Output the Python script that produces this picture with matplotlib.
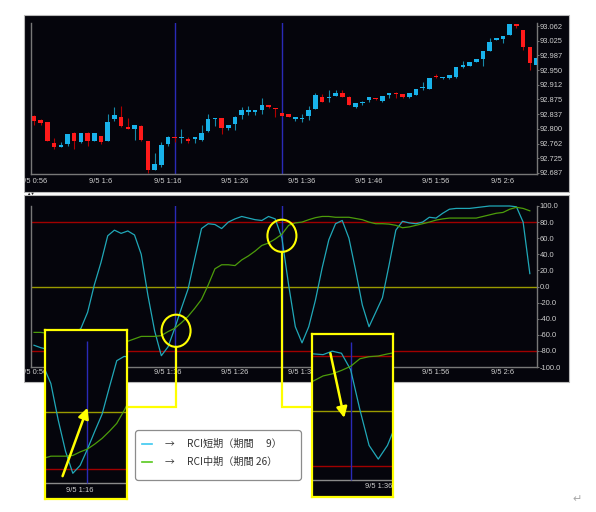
import numpy as np
import matplotlib
matplotlib.use("Agg")
import matplotlib.pyplot as plt
from matplotlib.patches import Rectangle, Ellipse, FancyBboxPatch

# ── Data ──────────────────────────────────────────────────────────────────────
# 1-minute candles from 9/5 0:56
bar_open = [92.833, 92.823, 92.817, 92.763, 92.754, 92.762, 92.790, 92.767, 92.789, 92.769,
            92.782, 92.769, 92.825, 92.831, 92.805, 92.800, 92.808, 92.769, 92.695, 92.708,
            92.762, 92.780, 92.776, 92.774, 92.775, 92.772, 92.795, 92.825, 92.827, 92.802,
            92.813, 92.835, 92.844, 92.844, 92.848, 92.861, 92.853, 92.840, 92.837, 92.826,
            92.825, 92.834, 92.851, 92.882, 92.878, 92.885, 92.891, 92.882, 92.855, 92.865,
            92.874, 92.878, 92.872, 92.887, 92.892, 92.889, 92.881, 92.887, 92.905, 92.902,
            92.935, 92.929, 92.929, 92.932, 92.959, 92.961, 92.971, 92.978, 92.999, 93.027,
            93.029, 93.040, 93.068, 93.052, 93.010, 92.963]
bar_high = [92.835, 92.825, 92.818, 92.777, 92.767, 92.788, 92.793, 92.790, 92.791, 92.790,
            92.783, 92.838, 92.857, 92.859, 92.827, 92.811, 92.810, 92.770, 92.739, 92.767,
            92.782, 92.781, 92.799, 92.779, 92.779, 92.810, 92.837, 92.829, 92.828, 92.811,
            92.832, 92.857, 92.858, 92.849, 92.878, 92.862, 92.853, 92.841, 92.838, 92.830,
            92.838, 92.858, 92.891, 92.889, 92.899, 92.899, 92.899, 92.883, 92.867, 92.870,
            92.881, 92.879, 92.885, 92.892, 92.893, 92.890, 92.892, 92.902, 92.920, 92.931,
            92.939, 92.932, 92.938, 92.959, 92.974, 92.971, 92.979, 92.999, 93.031, 93.032,
            93.038, 93.068, 93.068, 93.053, 93.010, 92.984]
bar_low = [92.810, 92.810, 92.769, 92.749, 92.753, 92.756, 92.748, 92.764, 92.757, 92.768,
           92.761, 92.768, 92.820, 92.806, 92.799, 92.772, 92.770, 92.688, 92.694, 92.702,
           92.757, 92.767, 92.765, 92.763, 92.765, 92.770, 92.791, 92.807, 92.787, 92.797,
           92.797, 92.826, 92.835, 92.835, 92.837, 92.853, 92.830, 92.833, 92.830, 92.821,
           92.818, 92.823, 92.850, 92.869, 92.868, 92.884, 92.881, 92.860, 92.853, 92.861,
           92.869, 92.874, 92.868, 92.880, 92.878, 92.880, 92.878, 92.886, 92.899, 92.901,
           92.929, 92.928, 92.928, 92.931, 92.955, 92.960, 92.971, 92.961, 92.999, 93.026,
           93.020, 93.039, 93.058, 93.001, 92.950, 92.959]
bar_close = [92.821, 92.816, 92.770, 92.753, 92.759, 92.786, 92.769, 92.789, 92.769, 92.789,
             92.767, 92.818, 92.835, 92.807, 92.800, 92.810, 92.772, 92.695, 92.710, 92.759,
             92.780, 92.777, 92.779, 92.769, 92.779, 92.789, 92.825, 92.829, 92.802, 92.810,
             92.831, 92.848, 92.848, 92.848, 92.861, 92.857, 92.850, 92.834, 92.831, 92.830,
             92.829, 92.848, 92.886, 92.869, 92.882, 92.891, 92.882, 92.861, 92.867, 92.869,
             92.881, 92.875, 92.885, 92.891, 92.889, 92.881, 92.891, 92.901, 92.908, 92.931,
             92.932, 92.932, 92.938, 92.959, 92.963, 92.970, 92.978, 92.999, 93.021, 93.031,
             93.038, 93.068, 93.063, 93.010, 92.967, 92.980]

rci_short = [-73, -76, -78, -80, -76, -68, -60, -52, -32, 2,
             30, 63, 70, 66, 69, 64, 40, -11, -55, -86,
             -75, -52, -27, -3, 35, 72, 78, 77, 72, 80,
             84, 87, 85, 83, 82, 87, 84, 60, 2, -50,
             -70, -50, -17, 23, 58, 78, 82, 60, 20, -23,
             -50, -32, -14, 27, 70, 81, 79, 78, 80, 86,
             85, 91, 96, 97, 97, 97, 98, 99, 100, 100,
             100, 100, 99, 80, 16]
rci_mid = [-57, -57, -58, -60, -62, -64, -66, -67, -68, -69,
           -70, -70, -70, -69, -68, -65, -62, -62, -62, -61,
           -56, -52, -45, -37, -27, -16, 2, 22, 27, 27,
           26, 33, 38, 44, 51, 54, 59, 65, 76, 79,
           80, 83, 85.5, 87, 87, 86, 86, 86, 84.5, 83,
           80, 78, 78, 77.5, 76, 73, 74, 76, 78, 80,
           82.5, 84, 85, 85, 85, 85, 85, 87, 89, 91,
           92, 96, 98.4, 97, 94]

tick_bars = [0, 10, 20, 30, 40, 50, 60, 70]
tick_labels = ["9/5 0:56", "9/5 1:6", "9/5 1:16", "9/5 1:26",
               "9/5 1:36", "9/5 1:46", "9/5 1:56", "9/5 2:6"]
price_ticks = [92.6875, 92.725, 92.7625, 92.8, 92.8375, 92.875,
               92.9125, 92.95, 92.9875, 93.025, 93.0625]
price_labels = ["92.687", "92.725", "92.762", "92.800", "92.837", "92.875",
                "92.912", "92.950", "92.987", "93.025", "93.062"]
rci_ticks = [100, 80, 60, 40, 20, 0, -20, -40, -60, -80, -100]
marker_bars = [21, 37]                 # blue vertical markers
cross_points = [(21.2, -55), (37, 63)]  # circled crossings
legend_labels = ["RCI短期（期間　 9）", "RCI中期（期間 26）"]

# ── Style ─────────────────────────────────────────────────────────────────────
plt.rcParams["font.family"] = ["Liberation Sans", "DejaVu Sans"]
JP = ["Noto Sans CJK JP", "DejaVu Sans"]
W, H = 596, 512
BG = "#05050c"
UP, DOWN = "#18b2ea", "#ff1a1a"
UP_WICK, DOWN_WICK = "#1688a8", "#b00000"
C_SHORT, C_MID = "#20a8b8", "#4c9c0a"
LVL_RED, LVL_ZERO = "#a00000", "#9a9a00"
VLINE, YEL = "#2a2ab8", "#ffff00"
AXIS, TXT = "#787878", "#d0d0d0"


def frac(x0, y0, x1, y1):
    return [x0 / W, 1 - y1 / H, (x1 - x0) / W, (y1 - y0) / H]


fig = plt.figure(figsize=(W / 100, H / 100), dpi=100, facecolor="white")

# background panels (pixel coordinates)
bg = fig.add_axes([0, 0, 1, 1], zorder=0)
bg.set_xlim(0, W); bg.set_ylim(H, 0); bg.axis("off")
bg.add_patch(Rectangle((24, 15), 545, 177, facecolor=BG, edgecolor="#b8b8b8", lw=0.8))
bg.add_patch(Rectangle((24, 195), 545, 187, facecolor=BG, edgecolor="#b8b8b8", lw=0.8))
bg.text(26, 193.6, "▲▼", fontsize=3.2, color="#202020", va="center", ha="left")

x = np.arange(len(bar_open))
xr = np.arange(len(rci_short))
XLIM = (-0.45, 75.07)


def style(ax, pad_x):
    ax.set_facecolor("none")
    ax.spines["top"].set_visible(False)
    for s in ["left", "bottom", "right"]:
        ax.spines[s].set_color(AXIS)
        ax.spines[s].set_linewidth(1.0)
    ax.yaxis.tick_right()
    ax.tick_params(axis="y", colors=AXIS, length=1.5, width=0.7, pad=0.6,
                   labelsize=5.4, labelcolor=TXT)
    ax.tick_params(axis="x", length=0, pad=pad_x, labelsize=5.4, labelcolor=TXT)
    ax.set_xlim(*XLIM)
    ax.set_xticks(tick_bars, tick_labels)


# ── Price panel ───────────────────────────────────────────────────────────────
ax_p = fig.add_axes(frac(31, 23, 537, 174), zorder=1)
style(ax_p, 3.0)
o = np.array(bar_open); c = np.array(bar_close)
up = c >= o
ax_p.vlines(x, bar_low, bar_high, colors=np.where(up, UP_WICK, DOWN_WICK), lw=0.8, zorder=2)
ax_p.bar(x, np.maximum(np.abs(c - o), 0.0022), bottom=np.minimum(o, c), width=0.68,
         color=np.where(up, UP, DOWN), linewidth=0, zorder=3)
for m in marker_bars:
    ax_p.axvline(m, color=VLINE, lw=1.0, zorder=1)
ax_p.set_ylim(92.6849, 93.0702)
ax_p.set_yticks(price_ticks, price_labels)

# ── RCI panel ─────────────────────────────────────────────────────────────────
ax_r = fig.add_axes(frac(31, 206, 537, 367), zorder=1)
style(ax_r, 1.8)
ax_r.set_ylim(-100, 100)
ax_r.set_yticks(rci_ticks, [f"{t:.1f}" for t in rci_ticks])
for lv, col in [(80, LVL_RED), (-80, LVL_RED), (0, LVL_ZERO)]:
    ax_r.axhline(lv, color=col, lw=1.0, zorder=1)
for m in marker_bars:
    ax_r.axvline(m, color=VLINE, lw=1.0, zorder=1)
ax_r.plot(xr, rci_short, color=C_SHORT, lw=0.9, clip_on=False, zorder=2)
ax_r.plot(xr, rci_mid, color=C_MID, lw=0.9, clip_on=False, zorder=2)
for cx, cy in cross_points:
    ax_r.add_patch(Ellipse((cx, cy), 4.33, 40, fill=False, ec=YEL, lw=1.5,
                           clip_on=False, zorder=5))

# ── Overlay: cover, connectors, legend ───────────────────────────────────────
ov = fig.add_axes([0, 0, 1, 1], zorder=3)
ov.set_xlim(0, W); ov.set_ylim(H, 0); ov.axis("off"); ov.patch.set_alpha(0)
ov.add_patch(Rectangle((0, 160), 23.5, 230, facecolor="white", edgecolor="none"))


def to_px(ax, xv, yv):
    d = ax.transData.transform((xv, yv))
    return d[0], H - d[1]


inset_rects = [(45, 330, 127, 499), (312, 334, 393, 497)]
link_y = 407
for (cx, cy), rect, side in zip(cross_points, inset_rects, ["right", "left"]):
    px, py = to_px(ax_r, cx, cy - 20)
    ex = rect[2] if side == "right" else rect[0]
    ov.plot([px, px, ex], [py, link_y, link_y], color=YEL, lw=1.6,
            solid_joinstyle="miter")

ov.add_patch(FancyBboxPatch((135.5, 430.5), 166, 50,
                            boxstyle="round,pad=0,rounding_size=3",
                            facecolor="white", edgecolor="#8c8c8c", lw=0.9))
for ly, col, lab in zip([444, 462], ["#3cc8f0", "#58c81c"], legend_labels):
    ov.plot([142, 152], [ly, ly], color=col, lw=1.2)
    ov.text(169.5, ly, "→", ha="center", va="center", fontsize=7,
            color="#333333", family=JP)
    ov.text(187, ly, lab, ha="left", va="center", fontsize=7.3,
            color="#333333", family=JP)
ov.text(577, 499, "↵", ha="center", va="center", fontsize=8, color="#a8a8a8",
        family=["DejaVu Sans"])

# ── Zoom insets ───────────────────────────────────────────────────────────────
insets = [
    dict(rect=inset_rects[0], xlim=(15.2, 26.4), ylim=(-122.1, 115.1),
         levels=[(-80, LVL_RED), (0, LVL_ZERO)],
         arrow=((17.6, -90), (21.0, 6))),
    dict(rect=inset_rects[1], xlim=(32.8, 41.6), ylim=(-125.1, 112.0),
         levels=[(80, LVL_RED), (-80, LVL_RED), (0, LVL_ZERO)],
         arrow=((34.8, 84), (36.3, -10))),
]
for spec in insets:
    ax = fig.add_axes(frac(*spec["rect"]), zorder=4)
    ax.set_facecolor(BG)
    for s in ax.spines.values():
        s.set_color(YEL)
        s.set_linewidth(1.6)
    ax.set_xticks([]); ax.set_yticks([])
    ax.set_xlim(*spec["xlim"]); ax.set_ylim(*spec["ylim"])
    for lv, col in spec["levels"]:
        ax.axhline(lv, color=col, lw=1.0)
    ax.axhline(-100, color="#8a8a8a", lw=1.0)
    ax.vlines(marker_bars, -100, 100, color=VLINE, lw=1.0)
    ax.plot(xr, rci_short, color=C_SHORT, lw=0.9)
    ax.plot(xr, rci_mid, color=C_MID, lw=0.9)
    for tb, tl in zip(tick_bars, tick_labels):
        if spec["xlim"][0] < tb < spec["xlim"][1]:
            ax.text(tb, -110, tl, ha="center", va="center", fontsize=5.4, color=TXT)
    tail, head = spec["arrow"]
    ax.annotate("", xy=head, xytext=tail,
                arrowprops=dict(arrowstyle="-|>,head_length=0.7,head_width=0.35",
                                color=YEL, lw=1.8, mutation_scale=9,
                                shrinkA=0, shrinkB=0))

fig.savefig("out.png", dpi=100, facecolor="white")
